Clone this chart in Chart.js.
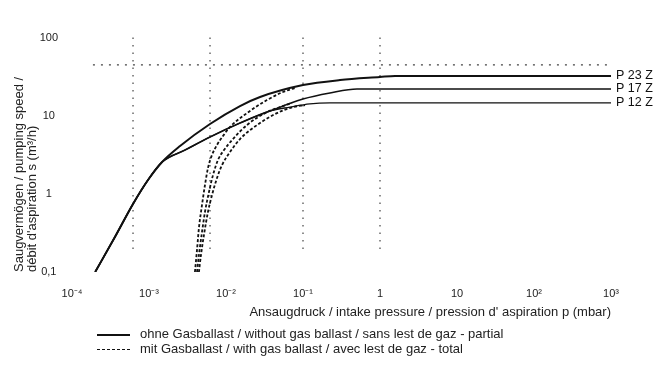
<!DOCTYPE html>
<html>
<head>
<meta charset="utf-8">
<script src="https://cdn.jsdelivr.net/npm/chart.js@4.4.1/dist/chart.umd.min.js"></script>
<style>
  body { margin: 0; background: #fff; }
  #wrap { position: relative; width: 662px; height: 380px; }
  .leg { position: absolute; left: 97px; font: 13px "Liberation Sans", Arial, sans-serif; color: #222; white-space: nowrap; line-height: 15px; }
  .leg .key { display: inline-block; width: 33px; height: 0; vertical-align: middle; margin-right: 10px; }
</style>
</head>
<body>
<div id="wrap">
  <canvas id="chart" width="662" height="380"></canvas>
  <div class="leg" style="top:326px"><span class="key" style="border-top:2px solid #111"></span>ohne Gasballast / without gas ballast / sans lest de gaz - partial</div>
  <div class="leg" style="top:341px"><span class="key" style="border-top:1.5px dashed #111"></span>mit Gasballast / with gas ballast / avec lest de gaz - total</div>
</div>
<script>
// axis ticks
const xTicks = [1e-4, 1e-3, 1e-2, 1e-1, 1, 10, 100, 1000];
const xTickLabels = ["10\u207B\u2074", "10\u207B\u00B3", "10\u207B\u00B2", "10\u207B\u00B9", "1", "10", "10\u00B2", "10\u00B3"];
const yTicks = [0.1, 1, 10, 100];
const yTickLabels = ["0,1", "1", "10", "100"];

// pressure (mbar) / pumping speed (m3/h), without gas ballast
const trunkP = [2.0e-4, 3.61e-4, 6.2e-4, 9.7e-4, 1.48e-3];
const trunkS = [0.1, 0.281, 0.745, 1.51, 2.57];
const p23P = [2.53e-3, 6.2e-3, 0.0152, 0.0277, 0.1, 0.303, 1, 1.57, 1000];
const p23S = [4.12, 7.89, 13.4, 17.5, 24.9, 28.9, 31.6, 32.6, 32.6];
const lowP = [2.94e-3, 6.2e-3, 0.0152, 0.0373];
const lowS = [3.66, 5.38, 8.13, 11.6];
const p17P = [0.1, 0.224, 0.502, 1000];
const p17S = [16.5, 19.7, 22.2, 22.2];
const p12P = [0.0678, 0.123, 0.224, 1000];
const p12S = [13.0, 14.3, 14.7, 14.7];

// with gas ballast
const gb23P = [3.95e-3, 4.2e-3, 4.45e-3, 4.88e-3, 5.33e-3, 5.83e-3, 6.58e-3, 7.64e-3, 9.14e-3, 0.01127, 0.01875, 0.034, 0.0549, 0.0787];
const gb23S = [0.1, 0.191, 0.366, 0.723, 1.30, 2.15, 3.16, 4.25, 5.54, 7.23, 10.9, 16.0, 20.3, 22.9];
const gb17P = [4.2e-3, 4.45e-3, 4.88e-3, 5.33e-3, 6.01e-3, 6.78e-3, 7.87e-3, 9.42e-3, 0.01197, 0.01875, 0.034, 0.0502, 0.0719];
const gb17S = [0.1, 0.165, 0.326, 0.588, 1.06, 1.75, 2.73, 3.66, 4.92, 7.67, 11.2, 13.0, 14.7];
const gb12P = [4.45e-3, 4.73e-3, 5.17e-3, 5.83e-3, 6.58e-3, 7.64e-3, 8.87e-3, 0.01127, 0.01521, 0.02767, 0.0459, 0.0741, 0.1062];
const gb12S = [0.1, 0.165, 0.298, 0.588, 0.97, 1.60, 2.35, 3.45, 5.07, 8.13, 10.9, 13.0, 13.8];

// dotted reference lines
const vLinesP = [6.2e-4, 6.2e-3, 0.1, 1];
const vLineS = [0.197, 115];
const hLineP = [1.87e-4, 887];
const hLineS = 45.1;

const font = '"Liberation Sans", Arial, sans-serif';
const pts = (xs, ys) => xs.map((x, i) => ({ x: x, y: ys[i] }));

const solid = { borderColor: "#111", borderWidth: 1.6, pointRadius: 0, cubicInterpolationMode: "monotone", fill: false };
const dashed = { borderColor: "#111", borderWidth: 1.8, borderDash: [3, 2], pointRadius: 0, cubicInterpolationMode: "monotone", fill: false };
const dotted = { borderColor: "#444", borderWidth: 1.2, pointRadius: 0, fill: false, clip: false };

const datasets = [
    Object.assign({ label: "P 23 Z", endLabel: "P 23 Z", data: pts(trunkP.concat(p23P), trunkS.concat(p23S)) }, solid, { borderWidth: 2 }),
    Object.assign({ label: "P 17 Z", endLabel: "P 17 Z", data: pts(trunkP.concat(lowP, p17P), trunkS.concat(lowS, p17S)) }, solid),
    Object.assign({ label: "P 12 Z", endLabel: "P 12 Z", data: pts(trunkP.concat(lowP, p12P), trunkS.concat(lowS, p12S)) }, solid, { borderWidth: 1.3 }),
    Object.assign({ label: "P 23 Z GB", data: pts(gb23P, gb23S) }, dashed),
    Object.assign({ label: "P 17 Z GB", data: pts(gb17P, gb17S) }, dashed),
    Object.assign({ label: "P 12 Z GB", data: pts(gb12P, gb12S) }, dashed),
    Object.assign({ label: "ref", data: pts(hLineP, [hLineS, hLineS]), borderDash: [2, 6] }, dotted),
];
vLinesP.forEach(p => {
    datasets.push(Object.assign({ label: "grid", data: pts([p, p], vLineS), borderDash: [1.5, 6] }, dotted));
});

// labels at the right end of the solid curves
const endLabels = {
    id: "endLabels",
    afterDatasetsDraw(chart) {
        const ctx = chart.ctx;
        ctx.save();
        ctx.font = "12.5px " + font;
        ctx.fillStyle = "#111";
        ctx.textBaseline = "middle";
        chart.data.datasets.forEach((ds, i) => {
            if (!ds.endLabel) return;
            const els = chart.getDatasetMeta(i).data;
            const last = els[els.length - 1];
            ctx.fillText(ds.endLabel, last.x + 5, last.y);
        });
        ctx.restore();
    },
};

new Chart(document.getElementById("chart"), {
    type: "line",
    data: { datasets: datasets },
    plugins: [endLabels],
    options: {
        responsive: false,
        animation: false,
        devicePixelRatio: 1,
        layout: { padding: { left: 0, right: 51, top: 38, bottom: 60 } },
        plugins: { legend: { display: false }, tooltip: { enabled: false } },
        scales: {
            x: {
                type: "logarithmic",
                min: 1e-4,
                max: 1000,
                grid: { display: false },
                border: { display: false },
                afterBuildTicks: s => { s.ticks = xTicks.map(v => ({ value: v })); },
                afterFit: s => { s.height = 48; },
                ticks: {
                    autoSkip: false,
                    maxRotation: 0,
                    padding: 7,
                    color: "#222",
                    font: { family: font, size: 11 },
                    callback: v => xTickLabels[xTicks.indexOf(v)],
                },
                title: {
                    display: true,
                    text: "Ansaugdruck / intake pressure / pression d' aspiration p (mbar)",
                    align: "end",
                    color: "#222",
                    padding: { top: 0, bottom: 0 },
                    font: { family: font, size: 13 },
                },
            },
            y: {
                type: "logarithmic",
                min: 0.1,
                max: 100,
                grid: { display: false },
                border: { display: false },
                afterBuildTicks: s => { s.ticks = yTicks.map(v => ({ value: v })); },
                afterFit: s => { s.width = 72; },
                ticks: {
                    padding: 6,
                    crossAlign: "center",
                    color: "#222",
                    font: { family: font, size: 11 },
                    callback: v => yTickLabels[yTicks.indexOf(v)],
                },
                title: {
                    display: true,
                    text: ["Saugvermögen / pumping speed /", "débit d'aspiration s (m³/h)"],
                    align: "start",
                    color: "#222",
                    padding: { top: 13, bottom: 0 },
                    font: { family: font, size: 13, lineHeight: 1 },
                },
            },
        },
    },
});
</script>
</body>
</html>
